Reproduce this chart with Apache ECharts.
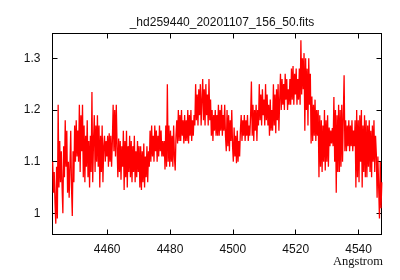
<!DOCTYPE html>
<html>
<head>
<meta charset="utf-8">
<script src="https://cdn.jsdelivr.net/npm/echarts@6/dist/echarts.min.js"></script>
<style>html,body{margin:0;padding:0;background:#fff}#c{width:400px;height:280px}</style>
</head>
<body>
<div id="c"></div>
<script>
const titleText = "_hd259440_20201107_156_50.fits";
const xAxisName = "Angstrom";
const xTicks = [4460, 4480, 4500, 4520, 4540];
const yTicks = [1, 1.1, 1.2, 1.3];
const waveStart = 4442.65;
const waveStep = 0.25;
const flux = [
1.10, 1.04, 1.08, 1.02, 0.98, 1.09, 0.99, 1.21, 1.05, 1.14,
1.06, 1.12, 1.05, 1.00, 1.13, 1.07, 1.18, 1.09, 1.16, 1.04,
1.10, 1.03, 1.09, 1.16, 1.05, 0.995, 1.12, 1.06, 1.17, 1.10,
1.18, 1.11, 1.16, 1.10, 1.21, 1.08, 1.19, 1.12, 1.21, 1.07,
1.17, 1.06, 1.15, 1.09, 1.18, 1.07, 1.14, 1.05, 1.15, 1.08,
1.235, 1.06, 1.14, 1.19, 1.08, 1.17, 1.10, 1.19, 1.09, 1.17,
1.05, 1.15, 1.08, 1.17, 1.06, 1.13, 1.15, 1.10, 1.14, 1.11,
1.15, 1.09, 1.155, 1.10, 1.15, 1.09, 1.14, 1.21, 1.12, 1.20,
1.11, 1.21, 1.13, 1.07, 1.145, 1.08, 1.14, 1.065, 1.13, 1.09,
1.16, 1.045, 1.14, 1.07, 1.16, 1.05, 1.13, 1.08, 1.15, 1.07,
1.14, 1.06, 1.13, 1.08, 1.15, 1.06, 1.12, 1.07, 1.14, 1.08,
1.13, 1.05, 1.13, 1.045, 1.12, 1.06, 1.135, 1.05, 1.11, 1.07,
1.13, 1.06, 1.12, 1.09, 1.16, 1.10, 1.17, 1.11, 1.15, 1.10,
1.17, 1.12, 1.16, 1.10, 1.15, 1.11, 1.17, 1.12, 1.16, 1.11,
1.14, 1.11, 1.14, 1.085, 1.17, 1.09, 1.25, 1.10, 1.17, 1.09,
1.16, 1.10, 1.15, 1.09, 1.17, 1.11, 1.083, 1.15, 1.18, 1.135,
1.20, 1.14, 1.19, 1.14, 1.20, 1.15, 1.18, 1.135, 1.19, 1.14,
1.18, 1.14, 1.20, 1.135, 1.19, 1.15, 1.20, 1.14, 1.18, 1.15,
1.19, 1.17, 1.25, 1.18, 1.23, 1.17, 1.24, 1.19, 1.25, 1.17,
1.22, 1.26, 1.18, 1.24, 1.17, 1.25, 1.19, 1.23, 1.17, 1.26,
1.18, 1.22, 1.15, 1.20, 1.14, 1.19, 1.16, 1.20, 1.15, 1.19,
1.15, 1.21, 1.15, 1.20, 1.16, 1.21, 1.15, 1.19, 1.16, 1.21,
1.15, 1.12, 1.20, 1.13, 1.19, 1.12, 1.18, 1.14, 1.20, 1.13,
1.10, 1.166, 1.11, 1.15, 1.097, 1.16, 1.10, 1.14, 1.11, 1.16,
1.19, 1.14, 1.18, 1.15, 1.19, 1.14, 1.18, 1.15, 1.19, 1.14,
1.17, 1.15, 1.19, 1.255, 1.15, 1.21, 1.14, 1.20, 1.16, 1.21,
1.14, 1.20, 1.17, 1.25, 1.18, 1.23, 1.17, 1.24, 1.19, 1.22,
1.17, 1.25, 1.18, 1.23, 1.17, 1.21, 1.15, 1.22, 1.16, 1.20,
1.16, 1.25, 1.17, 1.23, 1.155, 1.24, 1.18, 1.25, 1.16, 1.22,
1.27, 1.20, 1.26, 1.21, 1.25, 1.20, 1.27, 1.22, 1.26, 1.20,
1.24, 1.21, 1.26, 1.21, 1.28, 1.22, 1.285, 1.21, 1.27, 1.23,
1.28, 1.21, 1.26, 1.22, 1.28, 1.21, 1.335, 1.23, 1.30, 1.24,
1.31, 1.16, 1.30, 1.20, 1.28, 1.17, 1.30, 1.21, 1.27, 1.135,
1.226, 1.14, 1.21, 1.15, 1.22, 1.14, 1.20, 1.15, 1.20, 1.07,
1.19, 1.09, 1.18, 1.08, 1.17, 1.10, 1.20, 1.083, 1.18, 1.10,
1.19, 1.09, 1.166, 1.13, 1.16, 1.135, 1.165, 1.13, 1.225, 1.10,
1.20, 1.04, 1.19, 1.08, 1.21, 1.08, 1.20, 1.09, 1.21, 1.10,
1.19, 1.267, 1.12, 1.18, 1.12, 1.17, 1.13, 1.18, 1.12, 1.17,
1.13, 1.18, 1.12, 1.16, 1.13, 1.18, 1.05, 1.20, 1.07, 1.18,
1.06, 1.19, 1.10, 1.20, 1.05, 1.17, 1.08, 1.19, 1.07, 1.18,
1.07, 1.17, 1.09, 1.18, 1.08, 1.16, 1.07, 1.17, 1.10, 1.18,
1.08, 1.15, 1.115, 1.03, 1.11, 1.05, 0.99, 1.10, 1.01, 1.06
];

const data = flux.map((v, i) => [waveStart + i * waveStep, v]);
const xMin = 4442.6, xMax = 4547.3, yMin = 0.959, yMax = 1.348;
const font = '"Liberation Sans", Arial, sans-serif';

function xAx(pos, show) {
  return {
    type: 'value', position: pos, min: xMin, max: xMax,
    axisLine: {show: true, onZero: false, lineStyle: {color: '#000', width: 1}},
    axisTick: {show: true, inside: true, length: 5, customValues: xTicks, lineStyle: {color: '#000'}},
    axisLabel: {show: show, customValues: xTicks, margin: 9, color: '#111', fontFamily: font, fontSize: 12,
      formatter: v => String(Math.round(v))},
    splitLine: {show: false}
  };
}
function yAx(pos, show) {
  return {
    type: 'value', position: pos, min: yMin, max: yMax,
    axisLine: {show: true, onZero: false, lineStyle: {color: '#000', width: 1}},
    axisTick: {show: true, inside: true, length: 5, customValues: yTicks, lineStyle: {color: '#000'}},
    axisLabel: {show: show, customValues: yTicks, margin: 12, color: '#111', fontFamily: font, fontSize: 12,
      formatter: v => String(Math.round(v * 10) / 10)},
    splitLine: {show: false}
  };
}

const chart = echarts.init(document.getElementById('c'), null, {renderer: 'canvas'});
chart.setOption({
  animation: false,
  backgroundColor: '#fff',
  title: {text: titleText, left: 217, top: 12, textAlign: 'center',
    textStyle: {fontFamily: font, fontSize: 12, fontWeight: 'normal', color: '#111'}},
  grid: {left: 52.5, right: 18.5, top: 33.5, bottom: 45.5, show: true, borderColor: '#000', borderWidth: 1},
  xAxis: [xAx('bottom', true), xAx('top', false)],
  yAxis: [yAx('left', true), yAx('right', false)],
  graphic: [{type: 'text', right: 17, top: 255,
    style: {text: xAxisName, fontFamily: '"Liberation Serif", "DejaVu Serif", serif', fontSize: 12.5, fill: '#111'}}],
  series: [{
    type: 'line', xAxisIndex: 0, yAxisIndex: 0, data: data,
    showSymbol: false, symbol: 'none', clip: true,
    lineStyle: {color: '#ff0000', width: 1.3}
  }]
});
</script>
</body>
</html>
